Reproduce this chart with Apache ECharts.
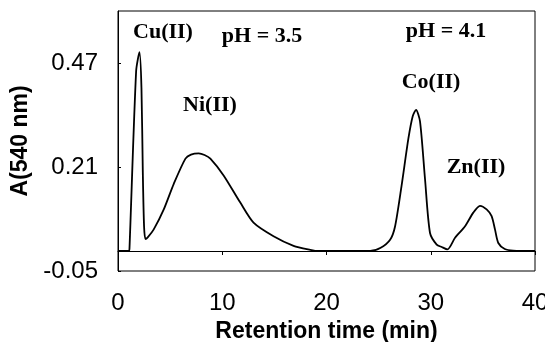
<!DOCTYPE html>
<html>
<head>
<meta charset="utf-8">
<script src="https://cdn.jsdelivr.net/npm/echarts@6/dist/echarts.min.js"></script>
<style>
html,body{margin:0;padding:0;background:#fff;}
#chart{width:545px;height:342px;}
</style>
</head>
<body>
<div id="chart"></div>
<script>
//保留时间 (min)
var time = [0, 1.05, 1.1, 1.74, 2.06, 2.25, 2.38, 2.5, 2.63, 2.85, 3.43, 4.39, 5.35, 6.47, 7.0, 7.74, 8.3, 8.86, 10.13, 11.73, 13.0, 14.92, 16.84, 18.44, 19.2,
	24.2, 25.2, 26.1, 26.58, 27.2, 27.86, 28.27, 28.59, 28.97, 29.45, 29.93, 30.57, 31.05, 31.6,
	32.33, 33.29, 34.08, 34.72, 35.36, 35.84, 36.16, 36.48, 37.1, 37.9, 40];
//吸光度 A(540 nm)
var absorb = [0, 0, 0.005, 0.45, 0.497, 0.408, 0.197, 0.062, 0.030, 0.034, 0.054, 0.104, 0.168, 0.231, 0.241, 0.244, 0.240, 0.231, 0.189, 0.121, 0.071, 0.037, 0.013, 0.003, 0,
	0, 0.008, 0.028, 0.062, 0.163, 0.282, 0.337, 0.353, 0.324, 0.18, 0.045, 0.016, 0.010, 0.004,
	0.033, 0.062, 0.096, 0.113, 0.104, 0.087, 0.054, 0.020, 0.005, 0.001, 0];
var yTicks = [-0.05, 0.21, 0.47];
//峰标注
var labels = ['Cu(II)', 'pH = 3.5', 'pH = 4.1', 'Ni(II)', 'Co(II)', 'Zn(II)'];
var labelPos = [[163, 32], [262, 36], [446, 31], [210, 105], [431, 82], [476, 167]];

var chart = echarts.init(document.getElementById('chart'));

var pts = [];
for (var i = 0; i < time.length; i++) {
	pts.push([time[i], absorb[i]]);
}

var graphics = [];
for (var j = 0; j < labels.length; j++) {
	graphics.push({
		type: 'text',
		x: labelPos[j][0],
		y: labelPos[j][1],
		style: {
			text: labels[j],
			font: 'bold 22px "Liberation Serif"',
			fill: '#000',
			align: 'center',
			verticalAlign: 'middle'
		}
	});
}

var option = {
	animation: false,
	grid: {
		left: 118, right: 10, top: 11, bottom: 71,
		outerBoundsMode: 'none',
		show: true, borderColor: '#000', borderWidth: 1
	},
	xAxis: {
		type: 'value',
		min: 0, max: 40, interval: 10,
		name: 'Retention time (min)',
		nameLocation: 'middle',
		nameGap: 47,
		nameTextStyle: { fontFamily: 'Liberation Sans', fontSize: 23, fontWeight: 'bold', color: '#000' },
		axisLine: { lineStyle: { color: '#000', width: 1 } },
		axisTick: { inside: false, length: 4, lineStyle: { color: '#000' } },
		axisLabel: { fontFamily: 'Liberation Sans', fontSize: 24, color: '#000', margin: 20 },
		splitLine: { show: false }
	},
	yAxis: {
		type: 'value',
		min: -0.05, max: 0.6,
		name: 'A(540 nm)',
		nameLocation: 'middle',
		nameGap: 80,
		nameTextStyle: { fontFamily: 'Liberation Sans', fontSize: 23, fontWeight: 'bold', color: '#000' },
		axisLine: { show: true, lineStyle: { color: '#000', width: 1 } },
		axisTick: { show: true, inside: true, length: 3, customValues: yTicks, lineStyle: { color: '#000' } },
		axisLabel: { fontFamily: 'Liberation Sans', fontSize: 24, color: '#000', margin: 20, customValues: yTicks,
			formatter: function (v) { return v.toFixed(2); } },
		splitLine: { show: false }
	},
	series: [{
		type: 'line',
		data: pts,
		showSymbol: false,
		smooth: 0.25,
		lineStyle: { color: '#000', width: 1.8 }
	}],
	graphic: graphics
};
chart.setOption(option);
</script>
</body>
</html>
